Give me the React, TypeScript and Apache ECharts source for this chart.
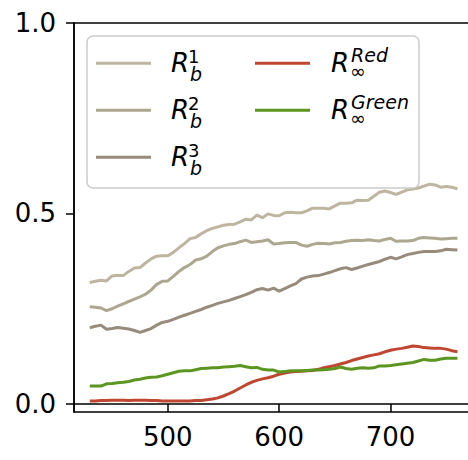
import React, { useEffect, useRef } from "react";
import * as echarts from "echarts";

const wavelengths = [
  430, 435, 440, 445, 450, 455, 460, 465, 470, 475, 480, 485, 490, 495, 500, 505, 510, 515, 520, 525,
  530, 535, 540, 545, 550, 555, 560, 565, 570, 575, 580, 585, 590, 595, 600, 605, 610, 615, 620, 625,
  630, 635, 640, 645, 650, 655, 660, 665, 670, 675, 680, 685, 690, 695, 700, 705, 710, 715, 720, 725,
  730, 735, 740, 745, 750, 755, 760,
];

const rb1 = [
  0.319, 0.322, 0.325, 0.323, 0.336, 0.338, 0.337, 0.348, 0.357, 0.358, 0.37, 0.381, 0.388, 0.389, 0.389, 0.398, 0.41, 0.421, 0.434, 0.437,
  0.447, 0.455, 0.461, 0.465, 0.469, 0.471, 0.472, 0.478, 0.485, 0.483, 0.496, 0.489, 0.499, 0.495, 0.494, 0.502, 0.503, 0.502, 0.502, 0.507,
  0.514, 0.514, 0.514, 0.512, 0.52, 0.527, 0.527, 0.528, 0.535, 0.534, 0.535, 0.545, 0.556, 0.559, 0.555, 0.55, 0.556, 0.562, 0.564, 0.567,
  0.572, 0.577, 0.575, 0.569, 0.571, 0.569, 0.565,
];

const rb2 = [
  0.255, 0.254, 0.252, 0.245, 0.25, 0.257, 0.263, 0.269, 0.275, 0.281, 0.288, 0.299, 0.314, 0.322, 0.323, 0.335, 0.348, 0.358, 0.366, 0.378,
  0.381, 0.388, 0.4, 0.41, 0.415, 0.419, 0.421, 0.426, 0.43, 0.424, 0.426, 0.428, 0.431, 0.42, 0.421, 0.423, 0.424, 0.424, 0.417, 0.414,
  0.419, 0.422, 0.421, 0.42, 0.423, 0.424, 0.427, 0.429, 0.43, 0.429, 0.431, 0.429, 0.428, 0.432, 0.435, 0.427, 0.428, 0.428, 0.429, 0.435,
  0.437, 0.436, 0.435, 0.433, 0.434, 0.435, 0.435,
];

const rb3 = [
  0.2, 0.204, 0.207, 0.196, 0.198, 0.201, 0.199, 0.197, 0.193, 0.188, 0.193, 0.198, 0.207, 0.214, 0.217, 0.222, 0.228, 0.233, 0.238, 0.243,
  0.248, 0.254, 0.259, 0.264, 0.268, 0.272, 0.277, 0.282, 0.287, 0.293, 0.3, 0.303, 0.299, 0.304, 0.296, 0.303, 0.31, 0.316, 0.328, 0.333,
  0.336, 0.337, 0.341, 0.345, 0.35, 0.355, 0.358, 0.353, 0.357, 0.362, 0.366, 0.37, 0.374, 0.38, 0.385, 0.381, 0.386, 0.392, 0.395, 0.398,
  0.4, 0.4, 0.4, 0.402, 0.406, 0.405, 0.404,
];

const rRed = [
  0.008, 0.008, 0.009, 0.009, 0.01, 0.01, 0.01, 0.009, 0.01, 0.01, 0.01, 0.009, 0.009, 0.008, 0.008, 0.008, 0.008, 0.008, 0.008, 0.009,
  0.009, 0.011, 0.013, 0.016, 0.021, 0.027, 0.034, 0.042, 0.05, 0.057, 0.062, 0.066, 0.069, 0.073, 0.078, 0.081, 0.084, 0.085, 0.086, 0.087,
  0.088, 0.091, 0.095, 0.098, 0.101, 0.105, 0.109, 0.114, 0.118, 0.122, 0.126, 0.129, 0.132, 0.137, 0.141, 0.144, 0.146, 0.149, 0.152, 0.151,
  0.148, 0.147, 0.146, 0.146, 0.144, 0.14, 0.137,
];

const rGreen = [
  0.047, 0.047, 0.047, 0.053, 0.054, 0.056, 0.057, 0.059, 0.063, 0.065, 0.068, 0.07, 0.071, 0.074, 0.078, 0.082, 0.086, 0.087, 0.087, 0.09,
  0.093, 0.094, 0.095, 0.095, 0.097, 0.098, 0.099, 0.101, 0.098, 0.095, 0.096, 0.091, 0.089, 0.089, 0.084, 0.085, 0.087, 0.087, 0.087, 0.088,
  0.089, 0.089, 0.09, 0.091, 0.093, 0.097, 0.093, 0.091, 0.094, 0.095, 0.094, 0.095, 0.1, 0.1, 0.101, 0.103, 0.105, 0.107, 0.109, 0.113,
  0.117, 0.115, 0.115, 0.118, 0.12, 0.12, 0.12,
];

const xTicks = [500, 600, 700];
const yTicks = [0, 0.5, 1.0];

const seriesDefs = [
  { name: "Rb1", values: rb1, color: "#bdb59f", sup: "1", sub: "b" },
  { name: "Rb2", values: rb2, color: "#aca78f", sup: "2", sub: "b" },
  { name: "Rb3", values: rb3, color: "#978b7b", sup: "3", sub: "b" },
  { name: "RinfRed", values: rRed, color: "#bf4630", sup: "Red", sub: "∞" },
  { name: "RinfGreen", values: rGreen, color: "#5c951f", sup: "Green", sub: "∞" },
];

const FONT = "DejaVu Sans";

function txt(x: number, y: number, text: string, font: string, lh: number) {
  return {
    type: "text",
    z: 101,
    x,
    y,
    style: { text, font, lineHeight: lh, fill: "#000", verticalAlign: "middle", align: "left" },
  };
}

function legendGraphics() {
  const els: any[] = [];
  els.push({
    type: "rect",
    z: 100,
    shape: { x: 87, y: 36, width: 332, height: 152, r: 6 },
    style: { fill: "rgba(255,255,255,0.8)", stroke: "#cccccc", lineWidth: 1.5 },
  });
  seriesDefs.forEach((s, i) => {
    const col = i < 3 ? 0 : 1;
    const row = i < 3 ? i : i - 3;
    const dy = row * 47;
    const hx = col === 0 ? 96 : 255;
    const tx = col === 0 ? 171 : 331;
    els.push({
      type: "line",
      z: 101,
      shape: { x1: hx, y1: 63.3 + dy, x2: hx + 55, y2: 63.3 + dy },
      style: { stroke: s.color, lineWidth: 3 },
    });
    els.push(txt(tx, 63 + dy, "R", `italic 26px '${FONT}'`, 20));
    if (col === 0) {
      els.push(txt(tx + 19, 74 + dy, s.sub, `italic 19px '${FONT}'`, 14));
      els.push(txt(tx + 17, 56 + dy, s.sup, `18px '${FONT}'`, 13));
    } else {
      els.push(txt(tx + 19, 71 + dy, s.sub, `19px '${FONT}'`, 10));
      els.push(txt(tx + 20, 54.8 + dy, s.sup, `italic 19px '${FONT}'`, 14));
    }
  });
  return els;
}

export default function App() {
  const ref = useRef<HTMLDivElement>(null);
  useEffect(() => {
    if (!ref.current) return;
    const chart = echarts.init(ref.current, null, { renderer: "svg" });
    const axisCommon = {
      axisLine: { show: true, lineStyle: { color: "#000", width: 1.5 } },
      axisTick: { show: true, length: 8, inside: false, lineStyle: { color: "#000", width: 1.5 } },
      splitLine: { show: false },
    };
    chart.setOption({
      animation: false,
      backgroundColor: "#ffffff",
      grid: {
        left: 74,
        top: 23,
        width: 401,
        height: 389,
        show: true,
        borderColor: "#000",
        borderWidth: 1.5,
        backgroundColor: "transparent",
      },
      xAxis: {
        type: "value",
        min: 415.8,
        max: 775.8,
        ...axisCommon,
        axisTick: { ...axisCommon.axisTick, customValues: xTicks },
        axisLabel: {
          customValues: xTicks,
          color: "#000",
          fontFamily: FONT,
          fontSize: 26,
          margin: 12,
          formatter: (v: number) => String(v),
        },
      },
      yAxis: {
        type: "value",
        min: -0.021,
        max: 1.0,
        ...axisCommon,
        axisTick: { ...axisCommon.axisTick, customValues: yTicks },
        axisLabel: {
          customValues: yTicks,
          color: "#000",
          fontFamily: FONT,
          fontSize: 26,
          margin: 18,
          formatter: (v: number) => v.toFixed(1),
        },
      },
      series: seriesDefs.map((s) => ({
        name: s.name,
        type: "line",
        showSymbol: false,
        symbol: "none",
        clip: true,
        lineStyle: { color: s.color, width: 3 },
        itemStyle: { color: s.color },
        data: wavelengths.map((w, i) => [w, s.values[i]]),
      })),
      graphic: legendGraphics(),
    });
    return () => chart.dispose();
  }, []);
  return (
    <div
      ref={ref}
      style={{ position: "fixed", left: 0, top: 0, width: 480, height: 460, background: "#fff" }}
    />
  );
}
